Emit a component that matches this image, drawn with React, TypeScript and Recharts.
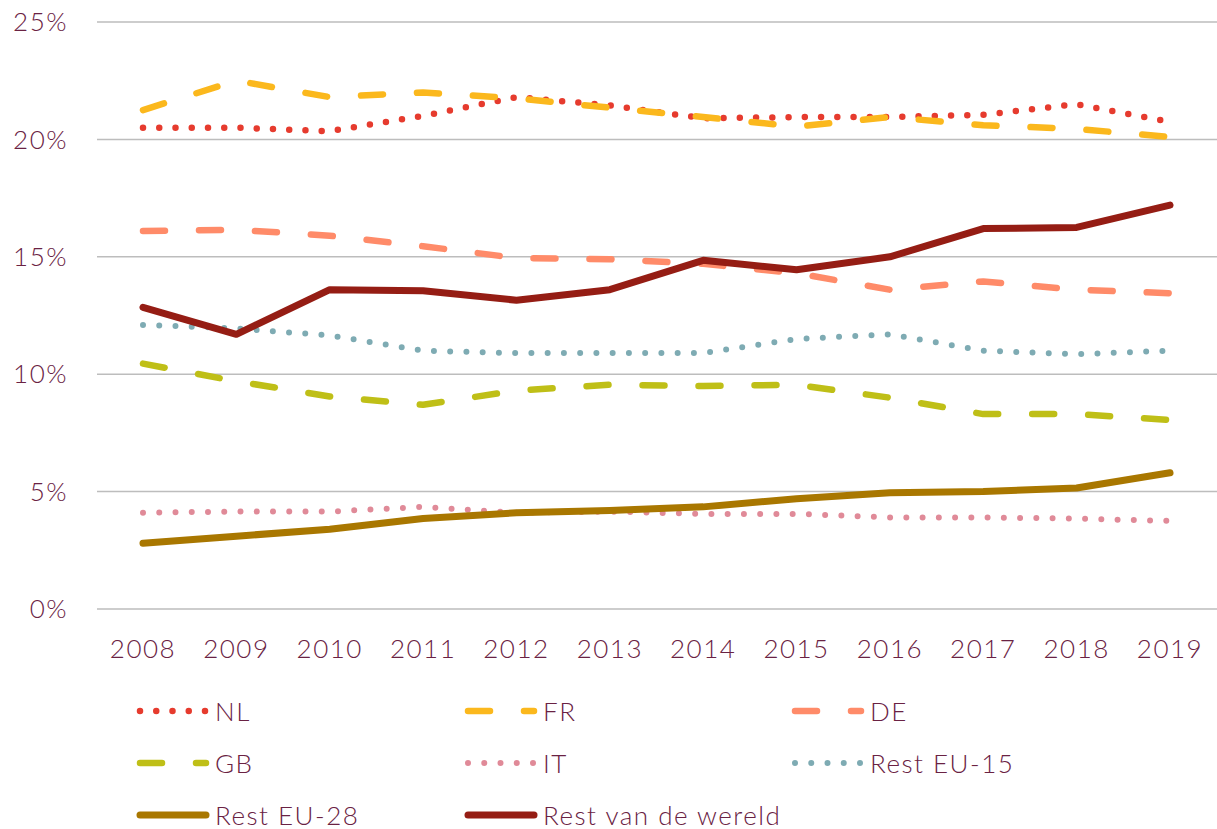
import React from 'react';
import { LineChart, Line, XAxis, YAxis, CartesianGrid } from 'recharts';

const years = ['2008', '2009', '2010', '2011', '2012', '2013', '2014', '2015', '2016', '2017', '2018', '2019'];

const nl = [20.5, 20.5, 20.35, 21.0, 21.8, 21.45, 20.9, 20.95, 20.95, 21.05, 21.5, 20.75];
const fr = [21.25, 22.5, 21.8, 22.0, 21.75, 21.35, 20.95, 20.55, 20.95, 20.6, 20.45, 20.1];
const de = [16.1, 16.15, 15.9, 15.45, 14.95, 14.9, 14.7, 14.3, 13.6, 13.95, 13.6, 13.45];
const gb = [10.45, 9.7, 9.05, 8.7, 9.3, 9.55, 9.5, 9.55, 9.0, 8.3, 8.3, 8.05];
const it = [4.1, 4.15, 4.15, 4.35, 4.1, 4.15, 4.05, 4.05, 3.9, 3.9, 3.85, 3.75];
const restEu15 = [12.1, 11.95, 11.65, 11.0, 10.9, 10.9, 10.9, 11.5, 11.7, 11.0, 10.85, 11.0];
const restEu28 = [2.8, 3.1, 3.4, 3.85, 4.1, 4.2, 4.35, 4.7, 4.95, 5.0, 5.15, 5.8];
const restWereld = [12.85, 11.7, 13.6, 13.55, 13.15, 13.6, 14.85, 14.45, 15.0, 16.2, 16.25, 17.2];

const yTicks = [0, 5, 10, 15, 20, 25];

const DOT = '0 16.25';
const DASH = '22 34';

const series = [
  { key: 'nl', name: 'NL', values: nl, color: '#e63b2e', dash: DOT, width: 6.5 },
  { key: 'fr', name: 'FR', values: fr, color: '#fbb81d', dash: DASH, width: 6.5 },
  { key: 'de', name: 'DE', values: de, color: '#ff8b69', dash: DASH, width: 6.5 },
  { key: 'gb', name: 'GB', values: gb, color: '#bfbf17', dash: DASH, width: 6.5 },
  { key: 'it', name: 'IT', values: it, color: '#e08a98', dash: DOT, width: 6 },
  { key: 'eu15', name: 'Rest EU-15', values: restEu15, color: '#7eabb3', dash: DOT, width: 6 },
  { key: 'eu28', name: 'Rest EU-28', values: restEu28, color: '#a97700', dash: undefined, width: 7 },
  { key: 'rvdw', name: 'Rest van de wereld', values: restWereld, color: '#951d14', dash: undefined, width: 7 },
];

const data = years.map((year, i) => {
  const row: Record<string, string | number> = { year };
  series.forEach((s) => {
    row[s.key] = s.values[i];
  });
  return row;
});

const textColor = '#6a2243';
const font = 'Lato, "Noto Sans", sans-serif';
const tickStyle = { fill: textColor, fontSize: 26, fontWeight: 300, fontFamily: font, letterSpacing: 1.5 };

function LegendItem({ s }: { s: (typeof series)[number] }) {
  return (
    <div style={{ display: 'flex', alignItems: 'center', height: 52 }}>
      <svg width={79} height={14} style={{ display: 'block' }}>
        <line
          x1={4}
          y1={7}
          x2={70}
          y2={7}
          stroke={s.color}
          strokeWidth={s.width}
          strokeLinecap="round"
          strokeDasharray={s.dash}
        />
      </svg>
      <span
        style={{
          fontSize: 26,
          fontWeight: 300,
          color: textColor,
          fontFamily: font,
          lineHeight: 1,
          letterSpacing: 1.5,
        }}
      >
        {s.name}
      </span>
    </div>
  );
}

export default function App() {
  return (
    <div style={{ position: 'absolute', left: 0, top: 0, width: 1217, height: 829, background: '#fff' }}>
      <LineChart
        width={1217}
        height={680}
        data={data}
        margin={{ top: 22, right: 0, left: 0, bottom: 11 }}
      >
        <CartesianGrid vertical={false} stroke="#bdbdbd" strokeWidth={1.5} />
        <XAxis
          dataKey="year"
          axisLine={false}
          tickLine={false}
          tickSize={0}
          tickMargin={31}
          height={60}
          interval={0}
          padding={{ left: 46, right: 47 }}
          tick={tickStyle}
        />
        <YAxis
          width={97}
          domain={[0, 25]}
          ticks={yTicks}
          axisLine={false}
          tickLine={false}
          tickSize={0}
          tickMargin={29}
          tickFormatter={(v: number) => `${v}%`}
          tick={tickStyle}
        />
        {series.map((s) => (
          <Line
            key={s.key}
            dataKey={s.key}
            name={s.name}
            type="linear"
            stroke={s.color}
            strokeWidth={s.width}
            strokeDasharray={s.dash}
            strokeLinecap="round"
            strokeLinejoin="round"
            dot={false}
            activeDot={false}
            isAnimationActive={false}
          />
        ))}
      </LineChart>
      <div
        style={{
          position: 'absolute',
          left: 136,
          top: 685,
          display: 'grid',
          gridTemplateColumns: '328px 327px 300px',
        }}
      >
        {series.map((s) => (
          <LegendItem key={s.key} s={s} />
        ))}
      </div>
    </div>
  );
}
